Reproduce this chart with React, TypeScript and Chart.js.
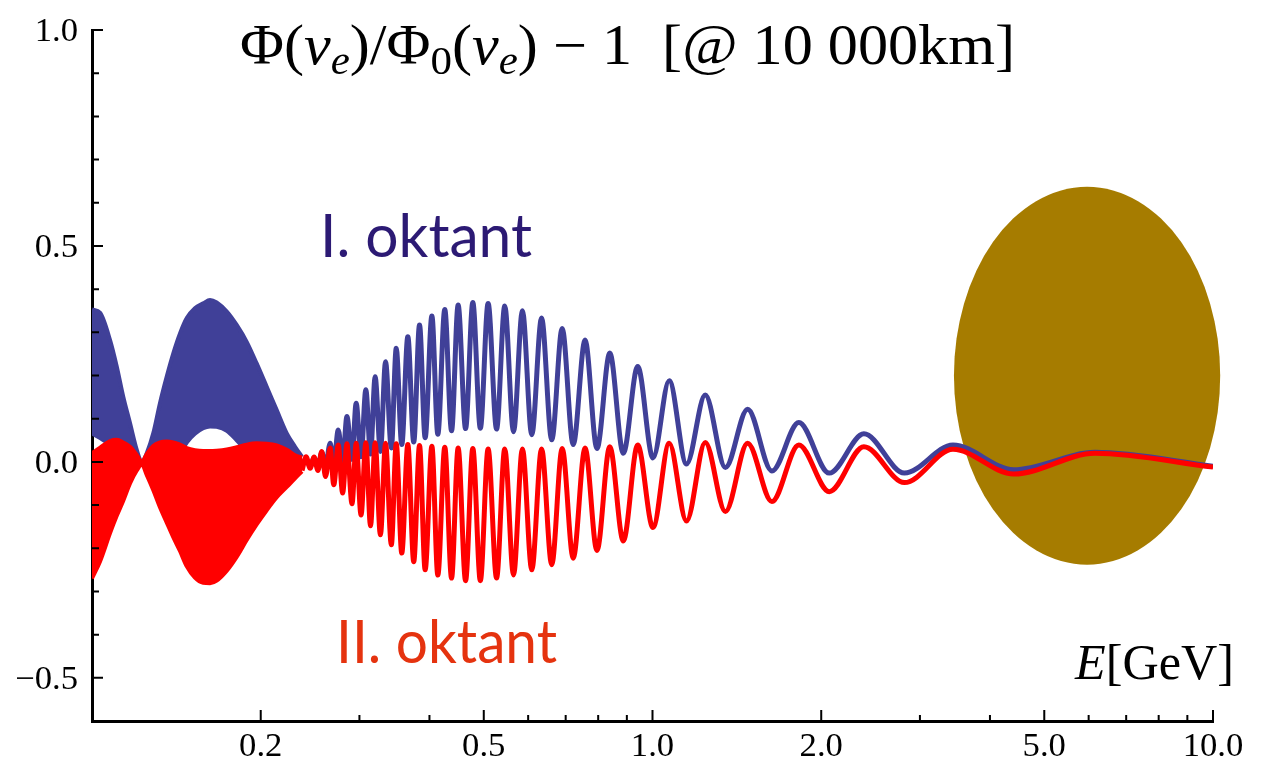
import React, { useEffect, useRef } from "react";
import { Chart, registerables } from "chart.js";

Chart.register(...registerables);

// ---------- axes ----------
const X_MIN = 0.1;
const X_MAX = 10;
const Y_MIN = -0.6;
const Y_MAX = 1.0;
const X_MAJOR_TICKS = [0.2, 0.5, 1, 2, 5, 10];
const X_MINOR_TICKS = [0.3, 0.4, 0.6, 0.7, 0.8, 0.9, 3, 4, 6, 7, 8, 9];
const Y_MAJOR_TICKS = [-0.5, 0, 0.5, 1.0];
const Y_MINOR_TICKS = [-0.4, -0.3, -0.2, -0.1, 0.1, 0.2, 0.3, 0.4, 0.6, 0.7, 0.8, 0.9];

// ---------- dense (unresolved) oscillation region: envelopes ----------
const BAND_E = [
  0.1, 0.1034, 0.1077, 0.1107, 0.1137, 0.1169, 0.1202, 0.1227, 0.1252, 0.1286,
  0.1322, 0.1359, 0.1397, 0.1436, 0.1476, 0.1526, 0.1579, 0.1624, 0.1669, 0.174,
  0.1812, 0.1888, 0.1967, 0.205, 0.2136, 0.2226, 0.2303, 0.237,
];
const BLUE_UPPER = [
  0.353, 0.345, 0.282, 0.221, 0.151, 0.09, 0.028, 0.0, 0.02, 0.066,
  0.136, 0.197, 0.252, 0.298, 0.333, 0.356, 0.367, 0.375, 0.369, 0.348,
  0.317, 0.278, 0.228, 0.174, 0.12, 0.066, 0.035, 0.012,
];
const BLUE_LOWER = [
  0.066, 0.055, 0.04, 0.03, 0.02, 0.012, 0.003, -0.005, -0.005, 0.0,
  0.0, 0.0, 0.005, 0.02, 0.045, 0.065, 0.078, 0.082, 0.081, 0.072,
  0.05, 0.025, 0.008, 0.0, -0.005, -0.008, -0.008, -0.008,
];
const RED_UPPER = [
  0.02, 0.033, 0.048, 0.051, 0.045, 0.035, 0.016, 0.0, 0.018, 0.037,
  0.045, 0.047, 0.045, 0.04, 0.032, 0.027, 0.025, 0.025, 0.026, 0.029,
  0.034, 0.04, 0.043, 0.042, 0.038, 0.028, 0.015, 0.01,
];
const RED_LOWER = [
  -0.27, -0.23, -0.165, -0.125, -0.09, -0.05, -0.02, -0.006, -0.03, -0.065,
  -0.105, -0.14, -0.175, -0.207, -0.242, -0.268, -0.28, -0.281, -0.275, -0.252,
  -0.22, -0.181, -0.145, -0.112, -0.082, -0.058, -0.038, -0.022,
];

// ---------- resolved oscillations: successive extrema (E in GeV) ----------
const WAVE_E = [
  0.237, 0.241, 0.245, 0.249, 0.253, 0.257, 0.261, 0.266, 0.27, 0.275,
  0.28, 0.285, 0.291, 0.296, 0.302, 0.308, 0.314, 0.32, 0.327, 0.334,
  0.342, 0.349, 0.357, 0.366, 0.375, 0.384, 0.393, 0.404, 0.414, 0.426,
  0.438, 0.45, 0.464, 0.478, 0.493, 0.509, 0.527, 0.545, 0.565, 0.586,
  0.609, 0.634, 0.661, 0.69, 0.722, 0.758, 0.796, 0.839, 0.887, 0.941,
  1.002, 1.071, 1.15, 1.242, 1.349, 1.478, 1.633, 1.824, 2.067, 2.383,
  2.815, 3.436, 4.41, 6.16, 10.0,
];
const BLUE_WAVE = [
  -0.008, 0.008, -0.012, 0.01, -0.012, 0.022, -0.01, 0.043, -0.006, 0.074,
  0.0, 0.105, 0.006, 0.136, 0.012, 0.167, 0.018, 0.197, 0.024, 0.232,
  0.032, 0.263, 0.04, 0.29, 0.046, 0.317, 0.056, 0.338, 0.064, 0.353,
  0.072, 0.363, 0.077, 0.369, 0.078, 0.367, 0.076, 0.361, 0.07, 0.35,
  0.063, 0.333, 0.051, 0.309, 0.04, 0.282, 0.031, 0.252, 0.02, 0.221,
  0.009, 0.188, -0.005, 0.155, -0.013, 0.122, -0.021, 0.091, -0.026, 0.065,
  -0.026, 0.039, -0.018, 0.022, -0.01,
];
const RED_WAVE = [
  -0.02, 0.012, -0.015, 0.011, -0.02, 0.024, -0.034, 0.032, -0.053, 0.039,
  -0.072, 0.042, -0.097, 0.043, -0.123, 0.044, -0.148, 0.044, -0.169, 0.043,
  -0.192, 0.042, -0.211, 0.04, -0.231, 0.038, -0.25, 0.036, -0.262, 0.034,
  -0.269, 0.032, -0.275, 0.031, -0.275, 0.03, -0.269, 0.03, -0.262, 0.03,
  -0.25, 0.03, -0.238, 0.031, -0.223, 0.032, -0.205, 0.035, -0.183, 0.039,
  -0.152, 0.043, -0.137, 0.045, -0.115, 0.043, -0.092, 0.039, -0.069, 0.035,
  -0.048, 0.029, -0.028, 0.02, -0.012,
];

// ---------- highlighted region (ellipse) ----------
const ELLIPSE_E = [3.45, 10.3];
const ELLIPSE_Y = [-0.238, 0.637];

// ---------- styles ----------
const BLUE = "#404098";
const RED = "#ff0000";
const OCHRE = "#a67c00";
const LABEL_BLUE = "#2c1a74";
const LABEL_RED = "#e5330f";
const SERIF = "Liberation Serif";
const SANS = "Lato";
const TICK_FONT = `33px "${SERIF}"`;
const TICK_STRETCH = 1.05;

const pts = (xs: number[], ys: number[]) => xs.map((x, i) => ({ x, y: ys[i] }));
const fmtX = (v: number) => v.toFixed(1);
const fmtY = (v: number) => (v < 0 ? "\u2212" : "") + Math.abs(v).toFixed(1);

type Run = { t: string; f: string; dy?: number };

function drawRuns(
  ctx: CanvasRenderingContext2D,
  runs: Run[],
  left: number,
  right: number,
  baseline: number,
  color: string
) {
  let total = 0;
  const widths = runs.map((r) => {
    ctx.font = r.f;
    const w = ctx.measureText(r.t).width;
    total += w;
    return w;
  });
  const sx = (right - left) / total;
  ctx.save();
  ctx.fillStyle = color;
  ctx.textBaseline = "alphabetic";
  ctx.textAlign = "left";
  ctx.translate(left, baseline);
  ctx.scale(sx, 1);
  let x = 0;
  runs.forEach((r, i) => {
    ctx.font = r.f;
    ctx.fillText(r.t, x, r.dy || 0);
    x += widths[i];
  });
  ctx.restore();
}

function drawStretched(
  ctx: CanvasRenderingContext2D,
  text: string,
  x: number,
  baseline: number,
  align: CanvasTextAlign
) {
  ctx.save();
  ctx.font = TICK_FONT;
  ctx.fillStyle = "#000";
  ctx.textAlign = align;
  ctx.textBaseline = "alphabetic";
  ctx.translate(x, baseline);
  ctx.scale(TICK_STRETCH, 1);
  ctx.fillText(text, 0, 0);
  ctx.restore();
}

const decorPlugin = {
  id: "decor",
  beforeDatasetsDraw(chart: any) {
    const { ctx, scales } = chart;
    const xs = scales.x;
    const ys = scales.y;
    const x0 = xs.getPixelForValue(ELLIPSE_E[0]);
    const x1 = xs.getPixelForValue(ELLIPSE_E[1]);
    const yTop = ys.getPixelForValue(ELLIPSE_Y[1]);
    const yBot = ys.getPixelForValue(ELLIPSE_Y[0]);
    ctx.save();
    ctx.fillStyle = OCHRE;
    ctx.beginPath();
    ctx.ellipse((x0 + x1) / 2, (yTop + yBot) / 2, (x1 - x0) / 2, (yBot - yTop) / 2, 0, 0, Math.PI * 2);
    ctx.fill();
    ctx.restore();
  },
  afterDraw(chart: any) {
    const { ctx, scales, chartArea } = chart;
    const xs = scales.x;
    const ys = scales.y;
    ctx.save();
    ctx.strokeStyle = "#000";
    ctx.lineWidth = 2;
    ctx.beginPath();
    Y_MAJOR_TICKS.forEach((v) => {
      const p = ys.getPixelForValue(v);
      ctx.moveTo(chartArea.left, p);
      ctx.lineTo(chartArea.left + 11, p);
    });
    Y_MINOR_TICKS.forEach((v) => {
      const p = ys.getPixelForValue(v);
      ctx.moveTo(chartArea.left, p);
      ctx.lineTo(chartArea.left + 7, p);
    });
    X_MAJOR_TICKS.forEach((v) => {
      const p = xs.getPixelForValue(v);
      ctx.moveTo(p, chartArea.bottom);
      ctx.lineTo(p, chartArea.bottom - 11);
    });
    X_MINOR_TICKS.forEach((v) => {
      const p = xs.getPixelForValue(v);
      ctx.moveTo(p, chartArea.bottom);
      ctx.lineTo(p, chartArea.bottom - 6);
    });
    ctx.stroke();
    ctx.restore();

    // tick labels at the scale's own tick positions
    (ys.ticks || []).forEach((t: any) => {
      const p = ys.getPixelForValue(t.value);
      drawStretched(ctx, fmtY(t.value), chartArea.left - 14, p + 11, "right");
    });
    (xs.ticks || []).forEach((t: any) => {
      const p = xs.getPixelForValue(t.value);
      drawStretched(ctx, fmtX(t.value), p, chartArea.bottom + 35, "center");
    });

    const up = `56px "${SERIF}"`;
    const it = `italic 56px "${SERIF}"`;
    const subI = `italic 40px "${SERIF}"`;
    const subU = `40px "${SERIF}"`;
    drawRuns(
      ctx,
      [
        { t: "Φ(", f: up },
        { t: "ν", f: it },
        { t: "e", f: subI, dy: 10 },
        { t: ")/Φ", f: up },
        { t: "0", f: subU, dy: 10 },
        { t: "(", f: up },
        { t: "ν", f: it },
        { t: "e", f: subI, dy: 10 },
        { t: ")", f: up },
        { t: " − 1", f: up },
        { t: "  [@ 10 000km]", f: up },
      ],
      240,
      1015,
      64,
      "#000"
    );
    drawRuns(
      ctx,
      [
        { t: "E", f: `italic 50px "${SERIF}"` },
        { t: "[GeV]", f: `50px "${SERIF}"` },
      ],
      1075,
      1234,
      679,
      "#000"
    );
    drawRuns(ctx, [{ t: "I. oktant", f: `60px "${SANS}"` }], 320, 532, 257, LABEL_BLUE);
    drawRuns(ctx, [{ t: "II. oktant", f: `60px "${SANS}"` }], 336, 557, 663, LABEL_RED);
  },
};

export default function App() {
  const ref = useRef<HTMLCanvasElement>(null);

  useEffect(() => {
    const canvas = ref.current;
    if (!canvas) return;
    const common = { pointRadius: 0, cubicInterpolationMode: "monotone" as const };
    const chart = new Chart(canvas, {
      type: "line",
      data: {
        datasets: [
          { ...common, label: "II. oktant", data: pts(WAVE_E, RED_WAVE), borderColor: RED, borderWidth: 5, fill: false, order: 0 },
          { ...common, label: "II upper", data: pts(BAND_E, RED_UPPER), borderColor: RED, backgroundColor: RED, borderWidth: 4, fill: "+1", order: 1 },
          { ...common, label: "II lower", data: pts(BAND_E, RED_LOWER), borderColor: RED, borderWidth: 4, fill: false, order: 1 },
          { ...common, label: "I. oktant", data: pts(WAVE_E, BLUE_WAVE), borderColor: BLUE, borderWidth: 5, fill: false, order: 2 },
          { ...common, label: "I upper", data: pts(BAND_E, BLUE_UPPER), borderColor: BLUE, backgroundColor: BLUE, borderWidth: 4, fill: "+1", order: 3 },
          { ...common, label: "I lower", data: pts(BAND_E, BLUE_LOWER), borderColor: BLUE, borderWidth: 4, fill: false, order: 3 },
        ] as any,
      },
      options: {
        animation: false,
        responsive: false,
        events: [],
        layout: { padding: { top: 30, right: 51, left: 0, bottom: 0 } },
        plugins: {
          legend: { display: false },
          tooltip: { enabled: false },
          title: { display: false },
        },
        scales: {
          x: {
            type: "logarithmic",
            min: X_MIN,
            max: X_MAX,
            grid: { display: false, drawTicks: false },
            border: { display: true, color: "#000", width: 3 },
            afterBuildTicks: (s: any) => {
              s.ticks = X_MAJOR_TICKS.map((v) => ({ value: v }));
            },
            afterFit: (s: any) => {
              s.height = 39;
            },
            ticks: { display: false, autoSkip: false, callback: (v: any) => fmtX(Number(v)) },
          },
          y: {
            type: "linear",
            min: Y_MIN,
            max: Y_MAX,
            grid: { display: false, drawTicks: false },
            border: { display: true, color: "#000", width: 3 },
            afterBuildTicks: (s: any) => {
              s.ticks = Y_MAJOR_TICKS.map((v) => ({ value: v }));
            },
            afterFit: (s: any) => {
              s.width = 92;
            },
            ticks: { display: false, callback: (v: any) => fmtY(Number(v)) },
          },
        },
      } as any,
      plugins: [decorPlugin],
    });
    return () => chart.destroy();
  }, []);

  return (
    <div style={{ position: "absolute", left: 0, top: 0, width: 1264, height: 760, background: "#fff" }}>
      <canvas ref={ref} width={1264} height={760} style={{ display: "block", width: 1264, height: 760 }} />
    </div>
  );
}
